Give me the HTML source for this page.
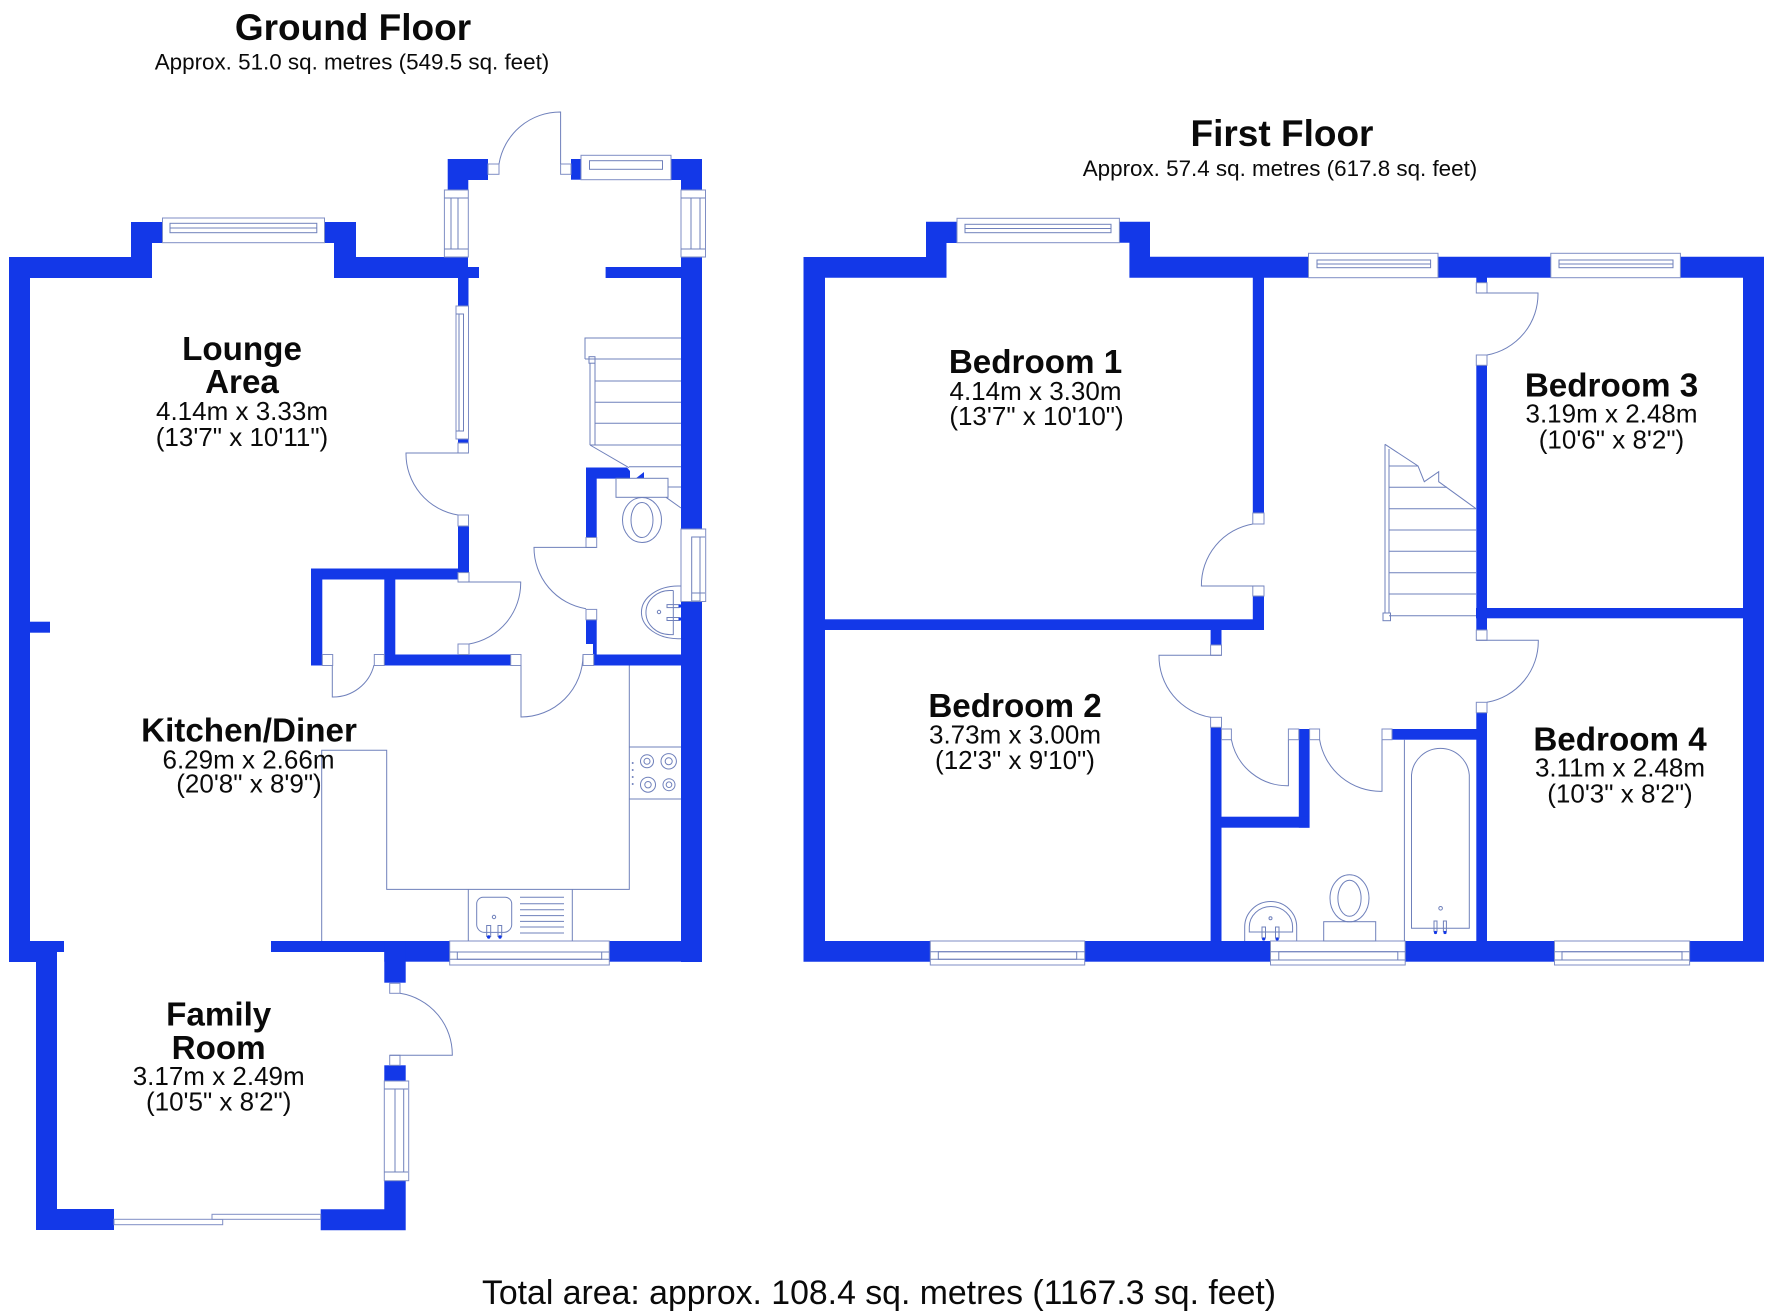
<!DOCTYPE html>
<html lang="en"><head><meta charset="utf-8"><title>Floor Plan</title>
<style>
html,body{margin:0;padding:0;background:#fff}
svg{display:block}
.w{fill:#1338e8}
.l{fill:none;stroke:#6f80bb;stroke-width:1}
.o{fill:#fff;stroke:#7f8ec4;stroke-width:1}
text{font-family:"Liberation Sans",Arial,sans-serif;fill:#0a0a0a;text-anchor:middle}
.n{font-weight:700;font-size:33.2px}
.d{font-size:26px}
.t{font-weight:700;font-size:37px}
.s{font-size:22.4px}
</style></head><body>
<svg xmlns="http://www.w3.org/2000/svg" width="1772" height="1316" viewBox="0 0 1772 1316">
<rect width="1772" height="1316" fill="#fff"/>

<!-- GROUND FLOOR walls -->
<g class="w">
<path d="M9 257H131V222H162.5V243H152V278H30V941H64V952H57V1209H114V1230H36V962H9Z"/>
<path d="M324 222H356V257H468V267H479V278H458V306H468V278H334V243H324Z"/>
<rect x="458" y="278" width="10.5" height="28"/>
<rect x="458" y="439" width="10.5" height="4"/>
<rect x="458" y="526" width="11" height="47"/>
<rect x="311" y="568.5" width="147" height="11"/>
<rect x="311" y="568.5" width="11.3" height="97"/>
<rect x="384.3" y="568.5" width="11" height="97"/>
<rect x="384.3" y="654.5" width="126.4" height="11"/>
<rect x="593.7" y="654.5" width="90" height="11"/>
<path d="M586 467.5H627L630 471V478.6H596.7V537.5H586Z"/>
<rect x="586" y="620" width="10.7" height="24"/>
<rect x="593" y="644" width="3.7" height="11"/>
<path d="M636 478.3L644 472V478.3Z"/>
<rect x="681" y="257" width="21" height="272"/>
<rect x="681" y="601" width="21" height="361"/>
<rect x="605.6" y="267" width="76" height="11"/>
<path d="M447.7 159H488V180H468.3V190H447.7Z"/>
<rect x="571" y="159" width="10" height="20.7"/>
<path d="M671 159H702V190H681V180H671Z"/>
<rect x="609" y="941" width="93" height="20.7"/>
<rect x="271" y="941" width="179" height="11"/>
<rect x="384.3" y="941" width="65.7" height="20.7"/>
<rect x="384.3" y="941" width="21.4" height="41.7"/>
<rect x="30" y="621.7" width="20" height="11"/>
<rect x="384.3" y="1065.3" width="21.4" height="15.7"/>
<path d="M384.3 1180.7H405.7V1230.3H320.7V1209.3H384.3Z"/>
</g>

<!-- Ground windows -->
<g>
<rect class="o" x="162.5" y="218" width="162" height="24.7"/>
<rect class="l" x="170" y="223.3" width="146.8" height="9.4"/><line class="l" x1="170" y1="228" x2="316.8" y2="228"/>
<rect class="o" x="444.4" y="190" width="23.9" height="67"/>
<rect class="l" x="451" y="198" width="7" height="51"/><line class="l" x1="444.4" y1="198" x2="468" y2="198"/><line class="l" x1="444.4" y1="249" x2="468" y2="249"/>
<rect class="o" x="581" y="155.3" width="90" height="24.4"/>
<rect class="l" x="589.5" y="160.7" width="73" height="8.6"/>
<rect class="o" x="681" y="190" width="24.5" height="67"/>
<rect class="l" x="691" y="198" width="9" height="51"/><line class="l" x1="681" y1="198" x2="705" y2="198"/><line class="l" x1="681" y1="249" x2="705" y2="249"/>
<rect class="o" x="456" y="306" width="12.5" height="133"/>
<rect class="l" x="459" y="314" width="4.5" height="117"/>
<line class="l" x1="456" y1="314" x2="463.5" y2="314"/><line class="l" x1="456" y1="431" x2="463.5" y2="431"/>
<rect class="o" x="681" y="529" width="24.7" height="72.5"/>
<rect class="l" x="691.7" y="537" width="8.3" height="64"/><line class="l" x1="691.7" y1="593" x2="705" y2="593"/><line class="l" x1="691.7" y1="537" x2="705" y2="537"/>
<rect class="o" x="449.7" y="941" width="159.6" height="24"/>
<rect class="l" x="457.3" y="952" width="144.4" height="7.3"/><line class="l" x1="449.7" y1="952" x2="609" y2="952"/><line class="l" x1="449.7" y1="959.3" x2="609" y2="959.3"/>
<rect class="o" x="384.3" y="1081" width="24.4" height="99.7"/>
<rect class="l" x="395" y="1089" width="8.7" height="83"/><line class="l" x1="384.3" y1="1089" x2="408" y2="1089"/><line class="l" x1="384.3" y1="1172" x2="408" y2="1172"/>
<rect class="o" x="114" y="1219.3" width="108.7" height="5.4"/>
<rect class="o" x="212" y="1214.3" width="108.7" height="5"/>
</g>

<!-- Ground door jambs -->
<g class="o">
<rect x="458" y="443" width="10.5" height="10"/>
<rect x="458" y="515" width="10.5" height="11"/>
<rect x="458" y="572.6" width="11" height="9.4"/>
<rect x="458" y="644" width="11" height="10.5"/>
<rect x="322.3" y="654.5" width="10.4" height="11"/>
<rect x="374.3" y="654.5" width="10" height="11"/>
<rect x="510.7" y="654.5" width="10.3" height="11"/>
<rect x="583" y="654.5" width="10.7" height="11"/>
<rect x="586" y="537.5" width="10.7" height="10"/>
<rect x="586" y="609.4" width="10.7" height="10.4"/>
<rect x="488" y="164" width="11" height="10.3"/>
<rect x="560.6" y="164" width="10.4" height="10.3"/>
<rect x="389.7" y="983.3" width="10.3" height="10"/>
<rect x="389.7" y="1055.3" width="10.3" height="10"/>
</g>

<!-- Ground doors -->
<g class="l">
<path d="M560.6 164V112A62 62 0 0 0 499 164"/>
<path d="M468 453H406A62 62 0 0 0 458 515"/>
<path d="M458 582H520.7A62 62 0 0 1 469 644"/>
<path d="M596 547.4H534A62 62 0 0 0 586 608.7"/>
<path d="M521 665.5V717A62 62 0 0 0 583 655"/>
<path d="M332.3 665.5V697A42 42 0 0 0 374 665"/>
<path d="M400 993.3A62 62 0 0 1 452.3 1055.3H389.7"/>
</g>

<!-- Ground stairs -->
<g class="l">
<path d="M585 359V338H681"/>
<path d="M585 359H681"/>
<rect x="589" y="356.7" width="6" height="6.5"/>
<path d="M590 363V445M595 363V445"/>
<path d="M595 381H681M595 402.3H681M595 423.3H681M590 445H681M629 466.7H681"/>
<path d="M590 445L629 467.7"/>
</g>

<!-- WC ground -->
<g class="l">
<rect x="616" y="478.3" width="52" height="19"/>
<path d="M668 487H681M666 497.3L681 508"/>
<ellipse cx="642" cy="520" rx="19.5" ry="22.5"/>
<ellipse cx="642" cy="520" rx="11" ry="17.5"/>
<path d="M681 586H678A36.5 26.3 0 0 0 678 638.7H681" />
<path d="M673.3 590.5H670A24 22 0 0 0 670 634.6H673.3V590.5" />
<circle cx="659" cy="612" r="1.7"/>
<rect x="667" y="604.6" width="12" height="3"/>
<rect x="667" y="617.5" width="12" height="3"/>
</g>
<circle cx="680" cy="606" r="1.6" fill="#1338e8"/><circle cx="680" cy="619" r="1.6" fill="#1338e8"/>

<!-- Kitchen -->
<g class="l">
<path d="M629.3 665.5V889.4H386.7V750.3H321.7V941"/>
<path d="M468.3 889.4V941M572.3 889.4V941"/>
<path d="M629.3 747H681M629.3 799H681"/>
<circle cx="647" cy="761.3" r="6.5"/><circle cx="647" cy="761.3" r="3"/>
<circle cx="668.7" cy="761.3" r="7.7"/><circle cx="668.7" cy="761.3" r="3.5"/>
<circle cx="648" cy="784.7" r="7.5"/><circle cx="648" cy="784.7" r="3.2"/>
<circle cx="669" cy="784.7" r="6"/><circle cx="669" cy="784.7" r="2.8"/>
<path d="M483 897.3H505A6.5 6.5 0 0 1 511.7 904V925A8 8 0 0 1 504 932.4H484A8 8 0 0 1 476.7 925V904A6.5 6.5 0 0 1 483 897.3Z"/>
<circle cx="494" cy="917" r="1.7"/>
<rect x="486.7" y="925.5" width="4" height="11"/><rect x="498" y="925.5" width="3.7" height="11"/>
<path d="M520 897.3H564M520 903.8H564M520 909.7H564M520 915.6H564M520 921.4H564M520 927H564M520 933H564"/>
</g>
<g fill="#6f80bb"><circle cx="632.7" cy="763" r="1"/><circle cx="632.7" cy="770" r="1"/><circle cx="632.7" cy="777" r="1"/><circle cx="632.7" cy="784" r="1"/></g>
<circle cx="488.7" cy="937" r="1.7" fill="#1338e8"/><circle cx="500" cy="937" r="1.7" fill="#1338e8"/>

<!-- FIRST FLOOR walls -->
<g class="w">
<path d="M803.5 257H926V221.7H957V243H946.5V277.7H825V941H930.3V961.7H803.5Z"/>
<path d="M1119.4 221.7H1150V256.7H1764V961.7H1689.6V941H1743V277.7H1129.4V242.7H1119.4Z"/>
<rect x="1084.7" y="941" width="186" height="20.7"/>
<rect x="1405" y="941" width="150" height="20.7"/>
<rect x="1252.8" y="277" width="11.2" height="236"/>
<rect x="1252.8" y="596" width="11.2" height="34"/>
<rect x="825" y="619.3" width="439" height="10.7"/>
<rect x="1476.3" y="277" width="10.7" height="5.7"/>
<rect x="1476.3" y="365.3" width="10.7" height="264.7"/>
<rect x="1476" y="608" width="268" height="10.3"/>
<rect x="1476.3" y="712.7" width="10.7" height="229"/>
<rect x="1392" y="729" width="85" height="10.7"/>
<rect x="1298.8" y="729" width="10.8" height="98.7"/>
<rect x="1221.5" y="816.7" width="88" height="11"/>
<rect x="1210.6" y="727.3" width="10.9" height="214"/>
<rect x="1210.6" y="630" width="10.9" height="15"/>
</g>

<!-- First windows -->
<g>
<rect class="o" x="957" y="218.3" width="162.4" height="24.4"/>
<rect class="l" x="965" y="224.3" width="146" height="8.4"/><line class="l" x1="965" y1="228.5" x2="1111" y2="228.5"/>
<rect class="o" x="1308.5" y="253.3" width="129.5" height="24.4"/>
<rect class="l" x="1317" y="260" width="113.6" height="7.7"/><line class="l" x1="1317" y1="264" x2="1430.6" y2="264"/>
<rect class="o" x="1550.8" y="253.3" width="129.6" height="24.4"/>
<rect class="l" x="1559" y="260" width="114" height="7.7"/><line class="l" x1="1559" y1="264" x2="1673" y2="264"/>
<rect class="o" x="930.3" y="941" width="154.4" height="24"/>
<rect class="l" x="938.3" y="951.7" width="138.4" height="7.6"/><line class="l" x1="930.3" y1="951.7" x2="1084.7" y2="951.7"/><line class="l" x1="930.3" y1="959.3" x2="1084.7" y2="959.3"/>
<rect class="o" x="1270.5" y="941" width="134.7" height="24"/>
<rect class="l" x="1278.8" y="951.7" width="119" height="8.3"/><line class="l" x1="1270.5" y1="951.7" x2="1405" y2="951.7"/><line class="l" x1="1270.5" y1="960" x2="1405" y2="960"/>
<rect class="o" x="1554.5" y="941" width="135.1" height="24"/>
<rect class="l" x="1562" y="951.7" width="120" height="8.3"/><line class="l" x1="1554.5" y1="951.7" x2="1689.6" y2="951.7"/><line class="l" x1="1554.5" y1="960" x2="1689.6" y2="960"/>
</g>

<!-- First jambs -->
<g class="o">
<rect x="1252.8" y="513" width="11.2" height="11"/>
<rect x="1252.8" y="586" width="11.2" height="10"/>
<rect x="1476.3" y="282.7" width="10.7" height="10.3"/>
<rect x="1476.3" y="355" width="10.7" height="10.3"/>
<rect x="1476.3" y="630" width="10.7" height="10.3"/>
<rect x="1476.3" y="702.3" width="10.7" height="10.4"/>
<rect x="1382" y="729" width="10" height="10.7"/>
<rect x="1309.6" y="729" width="10" height="10.7"/>
<rect x="1288.4" y="729" width="10.4" height="10.7"/>
<rect x="1221.5" y="729" width="9.9" height="10.7"/>
<rect x="1210.6" y="645" width="10.9" height="10.3"/>
<rect x="1210.6" y="717.3" width="10.9" height="10"/>
</g>

<!-- First doors -->
<g class="l">
<path d="M1252.8 524A62 62 0 0 0 1201.4 586H1264"/>
<path d="M1476.3 293H1538A62 62 0 0 1 1487 355"/>
<path d="M1476.3 640.3H1538.3A62 62 0 0 1 1487 702.3"/>
<path d="M1221.5 655.3H1159A62 62 0 0 0 1210.6 717.3"/>
<path d="M1382 739.7V791.3A62 62 0 0 1 1319.6 739.7"/>
<path d="M1288.4 739.7V785.7A57 57 0 0 1 1231.4 739.7"/>
</g>

<!-- First stairs -->
<g class="l">
<path d="M1385 444.3V613M1389 449V613"/>
<rect x="1383" y="613" width="7.5" height="7.7"/>
<path d="M1385 444.3L1418 466L1424.3 481.7L1438.7 471.7V481.7L1476 508.7"/>
<path d="M1389 466H1418M1389 487.3H1447M1389 508.7H1476M1389 530H1476M1389 551.3H1476M1389 572.7H1476M1389 594H1476M1389 615.7H1476"/>
</g>

<!-- Bathroom -->
<g class="l">
<line x1="1404.4" y1="739.7" x2="1404.4" y2="941"/>
<path d="M1411.5 928.3V775A29 29 0 0 1 1469.3 775V928.3Z"/>
<circle cx="1440.6" cy="908.3" r="1.8"/>
<rect x="1434" y="921" width="3" height="10.5"/><rect x="1443.4" y="921" width="3" height="10.5"/>
<rect x="1323.7" y="921.7" width="52" height="19.3"/>
<ellipse cx="1349.5" cy="898.3" rx="19.5" ry="23.5"/>
<ellipse cx="1349.5" cy="898.3" rx="11.6" ry="18"/>
<path d="M1244.7 941V927A26 25.5 0 0 1 1296.7 927V941"/>
<path d="M1249.3 932V927A21.6 20.5 0 0 1 1292.6 927V932Z"/>
<circle cx="1270.5" cy="918.3" r="1.5"/>
<rect x="1262" y="927" width="3.5" height="11"/><rect x="1275.5" y="927" width="3.5" height="11"/>
</g>
<g fill="#1338e8"><circle cx="1435.5" cy="932.5" r="1.6"/><circle cx="1445" cy="932.5" r="1.6"/><circle cx="1263.7" cy="939" r="1.6"/><circle cx="1277.2" cy="939" r="1.6"/></g>

<!-- Text -->
<text class="t" x="353" y="40">Ground Floor</text>
<text class="s" x="352" y="69.3">Approx. 51.0 sq. metres (549.5 sq. feet)</text>
<text class="t" x="1282" y="146">First Floor</text>
<text class="s" x="1280" y="176">Approx. 57.4 sq. metres (617.8 sq. feet)</text>
<text x="879" y="1304" style="font-size:33.8px">Total area: approx. 108.4 sq. metres (1167.3 sq. feet)</text>

<text class="n" x="242" y="359.8">Lounge</text><text class="n" x="242" y="393.2">Area</text>
<text class="d" x="242" y="420">4.14m x 3.33m</text><text class="d" x="242" y="446">(13'7" x 10'11")</text>

<text class="n" x="249" y="741.7">Kitchen/Diner</text>
<text class="d" x="248.5" y="768.3">6.29m x 2.66m</text><text class="d" x="249" y="792.7">(20'8" x 8'9")</text>

<text class="n" x="218.7" y="1025.5">Family</text><text class="n" x="218.7" y="1058.8">Room</text>
<text class="d" x="218.7" y="1085">3.17m x 2.49m</text><text class="d" x="218.7" y="1110.7">(10'5" x 8'2")</text>

<text class="n" x="1035.5" y="373.2">Bedroom 1</text>
<text class="d" x="1035.5" y="400">4.14m x 3.30m</text><text class="d" x="1036.5" y="425">(13'7" x 10'10")</text>

<text class="n" x="1611.5" y="396.5">Bedroom 3</text>
<text class="d" x="1611.5" y="422.7">3.19m x 2.48m</text><text class="d" x="1611.5" y="448.3">(10'6" x 8'2")</text>

<text class="n" x="1015" y="717.2">Bedroom 2</text>
<text class="d" x="1015" y="743.3">3.73m x 3.00m</text><text class="d" x="1015" y="769">(12'3" x 9'10")</text>

<text class="n" x="1620" y="750.5">Bedroom 4</text>
<text class="d" x="1620" y="776.7">3.11m x 2.48m</text><text class="d" x="1620" y="802.3">(10'3" x 8'2")</text>
</svg>
</body></html>
